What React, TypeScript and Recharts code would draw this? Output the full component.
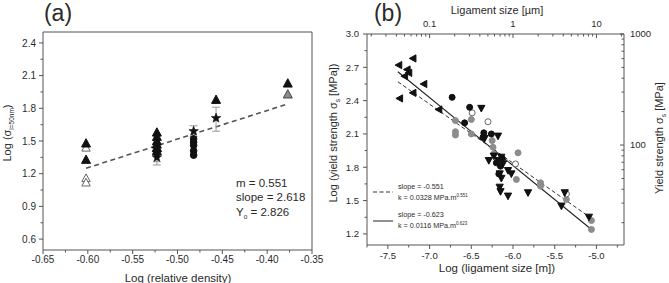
import React from 'react'
import { ComposedChart, Scatter, Line, XAxis, YAxis, ReferenceArea, ErrorBar } from 'recharts'

const FONT = '"Liberation Sans", Arial, Helvetica, sans-serif'
const INK = '#2a2a2a'
const FRAME = '#555'
const GRAY = '#8c8c8c'
const BLACK = '#111'

// ---------- (a) Log(sigma l=50nm) vs Log(relative density) ----------
const aTriFilled = [
  [-0.602, 1.48], [-0.602, 1.33],
  [-0.523, 1.58], [-0.523, 1.54], [-0.523, 1.5], [-0.523, 1.47], [-0.523, 1.44], [-0.523, 1.41],
  [-0.457, 1.88],
  [-0.377, 2.03],
]
const aTriGray = [[-0.377, 1.93]]
const aTriOpen = [[-0.602, 1.44], [-0.602, 1.16], [-0.602, 1.12]]
const aCircles = [[-0.482, 1.52], [-0.482, 1.49], [-0.482, 1.46], [-0.482, 1.41], [-0.482, 1.37]]
// stars with [minus, plus] error
const aStars = [
  { x: -0.523, y: 1.39, err: [0.08, 0.09] },
  { x: -0.523, y: 1.35, err: [0.07, 0.07] },
  { x: -0.482, y: 1.59, err: [0.05, 0.05] },
  { x: -0.457, y: 1.71, err: [0.12, 0.1] },
]
const aFit = [[-0.602, 1.25], [-0.377, 1.84]]

const aXMajor = [-0.65, -0.6, -0.55, -0.5, -0.45, -0.4, -0.35]
const aXMinor = [-0.625, -0.575, -0.525, -0.475, -0.425, -0.375]
const aYMajor = [0.6, 0.9, 1.2, 1.5, 1.8, 2.1, 2.4]
const aYMinor = [0.75, 1.05, 1.35, 1.65, 1.95, 2.25]

// ---------- (b) Log(yield strength) vs Log(ligament size) ----------
const bLeftTri = [
  [-7.37, 2.72], [-7.2, 2.78], [-7.27, 2.68], [-7.25, 2.65], [-7.3, 2.62],
  [-7.07, 2.55], [-7.36, 2.42], [-7.2, 2.47], [-6.89, 2.32],
]
const bDownTri = [
  [-6.38, 2.33], [-6.18, 2.08], [-6.34, 2.06], [-6.29, 1.86], [-6.23, 1.9], [-6.18, 1.86],
  [-6.14, 1.89], [-6.12, 1.83], [-6.06, 1.77], [-6.02, 1.74], [-6.16, 1.74], [-6.14, 1.7],
  [-6.16, 1.62], [-6.15, 1.58], [-6.06, 1.54], [-5.82, 1.57], [-5.42, 1.45], [-5.38, 1.57],
  [-5.09, 1.35],
]
const bBlackCircle = [
  [-6.73, 2.43], [-6.52, 2.34], [-6.58, 2.2], [-6.35, 2.11], [-6.26, 2.1], [-6.36, 2.07],
  [-6.15, 1.81], [-6.17, 1.74], [-6.13, 1.88], [-6.2, 1.84],
]
const bOpenCircle = [[-6.49, 2.29], [-6.3, 2.21], [-5.97, 1.83], [-5.36, 1.56]]
const bGrayCircle = [
  [-6.69, 2.22], [-6.69, 2.12], [-6.69, 2.09], [-6.5, 2.23], [-6.5, 2.1], [-6.25, 2.04],
  [-6.24, 1.98], [-6.23, 1.92], [-5.94, 1.93], [-5.96, 1.69], [-5.67, 1.66], [-5.67, 1.63],
  [-5.36, 1.51], [-5.06, 1.32], [-5.06, 1.24],
]
const bFitDashed = [[-7.38, 2.57], [-5.08, 1.35]]
const bFitSolid = [[-7.38, 2.66], [-5.06, 1.24]]

const bXMajor = [-7.5, -7.0, -6.5, -6.0, -5.5, -5.0]
const bXMinor = [-7.75, -7.25, -6.75, -6.25, -5.75, -5.25, -4.75]
const bYMajor = [1.2, 1.5, 1.8, 2.1, 2.4, 2.7, 3.0]
const bYMinor = [1.35, 1.65, 1.95, 2.25, 2.55, 2.85]
// top axis: ligament size in micrometres, right axis: yield strength in MPa (log scales)
const topMajorUm = [0.1, 1, 10]
const topMinorUm = [0.02, 0.03, 0.04, 0.05, 0.06, 0.07, 0.08, 0.09, 0.2, 0.3, 0.4, 0.5, 0.6, 0.7, 0.8, 0.9, 2, 3, 4, 5, 6, 7, 8, 9, 20]
const rightMajorMPa = [100, 1000]
const rightMinorMPa = [20, 30, 40, 50, 60, 70, 80, 90, 200, 300, 400, 500, 600, 700, 800, 900]

const pts = (a: number[][]) => a.map(([x, y]) => ({ x, y }))
const umToLogM = (v: number) => Math.log10(v) - 6

type Kind = 'up' | 'down' | 'left' | 'circle' | 'star'
const marker = (kind: Kind, fill: string, stroke: string, r: number) => (p: any) => {
  const { cx, cy } = p
  if (cx == null || cy == null) return <g />
  if (kind === 'circle') return <circle cx={cx} cy={cy} r={r} fill={fill} stroke={stroke} strokeWidth={1} />
  if (kind === 'star') {
    const s: string[] = []
    for (let i = 0; i < 10; i++) {
      const rr = i % 2 === 0 ? r : r * 0.42
      const a = -Math.PI / 2 + (i * Math.PI) / 5
      s.push(`${cx + rr * Math.cos(a)},${cy + rr * Math.sin(a)}`)
    }
    return <polygon points={s.join(' ')} fill={fill} stroke={stroke} strokeWidth={0.6} />
  }
  const h = r * 0.85
  let poly = ''
  if (kind === 'up') poly = `${cx},${cy - r} ${cx + r},${cy + h} ${cx - r},${cy + h}`
  if (kind === 'down') poly = `${cx},${cy + r} ${cx + r},${cy - h} ${cx - r},${cy - h}`
  if (kind === 'left') poly = `${cx - r},${cy} ${cx + h},${cy - r} ${cx + h},${cy + r}`
  return <polygon points={poly} fill={fill} stroke={stroke} strokeWidth={1} />
}

type Side = 'bottom' | 'left' | 'top' | 'right'
const tickRenderer = (
  side: Side,
  majors: number[],
  fmt: (v: number) => string,
  o: { gap: number; size: number; inward?: boolean; len?: number; minor?: number },
) => (props: any) => {
  const { x, y, payload } = props
  const v = payload.value as number
  const isMajor = majors.some((m) => Math.abs(m - v) < 1e-6)
  const L = isMajor ? o.len ?? 5 : o.minor ?? 3
  const s = o.inward ? -1 : 1
  let x2 = x, y2 = y, tx = x, ty = y
  let anchor: 'start' | 'middle' | 'end' = 'middle'
  if (side === 'bottom') { y2 = y + s * L; ty = y + o.gap }
  if (side === 'top') { y2 = y - s * L; ty = y - o.gap }
  if (side === 'left') { x2 = x - s * L; tx = x - o.gap; ty = y + o.size * 0.36; anchor = 'end' }
  if (side === 'right') { x2 = x + s * L; tx = x + o.gap; ty = y + o.size * 0.36; anchor = 'start' }
  return (
    <g>
      <line x1={x} y1={y} x2={x2} y2={y2} stroke={FRAME} strokeWidth={1} />
      {isMajor && (
        <text x={tx} y={ty} textAnchor={anchor} fontSize={o.size} fill={INK} fontFamily={FONT}>
          {fmt(v)}
        </text>
      )}
    </g>
  )
}

const axisBase = { type: 'number' as const, interval: 0 as const, tickSize: 0, tickMargin: 0, axisLine: false, tickLine: false, allowDataOverflow: true }

function PanelA() {
  return (
    <ComposedChart width={335} height={283} margin={{ top: 32, right: 23, left: 0, bottom: 0 }}>
      <XAxis
        {...axisBase}
        dataKey="x"
        height={33}
        domain={[-0.65, -0.35]}
        ticks={[...aXMajor, ...aXMinor]}
        tick={tickRenderer('bottom', aXMajor, (v) => v.toFixed(2), { gap: 13, size: 10, len: 4, minor: 2.5 })}
      />
      <YAxis
        {...axisBase}
        dataKey="y"
        width={43}
        domain={[0.5, 2.5]}
        ticks={[...aYMajor, ...aYMinor]}
        tick={tickRenderer('left', aYMajor, (v) => v.toFixed(1), { gap: 7, size: 10, len: 4, minor: 2.5 })}
      />
      <ReferenceArea x1={-0.65} x2={-0.35} y1={0.5} y2={2.5} fill="none" stroke={FRAME} strokeWidth={1} />
      <Line data={pts(aFit)} dataKey="y" type="linear" stroke="#555" strokeWidth={1.6} strokeDasharray="5 3.5" dot={false} isAnimationActive={false} />
      <Scatter data={aStars} shape={marker('star', BLACK, BLACK, 5)} isAnimationActive={false}>
        <ErrorBar dataKey="err" direction="y" width={4} stroke="#999" strokeWidth={1} />
      </Scatter>
      <Scatter data={pts(aTriOpen)} shape={marker('up', '#fff', '#666', 4.2)} isAnimationActive={false} />
      <Scatter data={pts(aTriGray)} shape={marker('up', GRAY, '#444', 4.5)} isAnimationActive={false} />
      <Scatter data={pts(aTriFilled)} shape={marker('up', BLACK, BLACK, 4.5)} isAnimationActive={false} />
      <Scatter data={pts(aCircles)} shape={marker('circle', BLACK, BLACK, 3.3)} isAnimationActive={false} />
    </ComposedChart>
  )
}

function PanelB() {
  return (
    <ComposedChart width={369} height={283} margin={{ top: 0, right: 0, left: 0, bottom: 0 }}>
      <XAxis
        {...axisBase}
        xAxisId="b"
        dataKey="x"
        height={38}
        domain={[-7.75, -4.67]}
        ticks={[...bXMajor, ...bXMinor]}
        tick={tickRenderer('bottom', bXMajor, (v) => v.toFixed(1), { gap: 14, size: 9.5, len: 4, minor: 2.5 })}
      />
      <XAxis
        {...axisBase}
        xAxisId="t"
        dataKey="x"
        orientation="top"
        height={34}
        domain={[-7.75, -4.67]}
        ticks={[...topMajorUm, ...topMinorUm].map(umToLogM)}
        tick={tickRenderer('top', topMajorUm.map(umToLogM), (v) => String(Math.round(Math.pow(10, v + 6) * 10) / 10), { gap: 7, size: 9.5, inward: true, len: 4, minor: 2.5 })}
      />
      <YAxis
        {...axisBase}
        yAxisId="l"
        dataKey="y"
        width={67}
        domain={[1.1, 3.0]}
        ticks={[...bYMajor, ...bYMinor]}
        tick={tickRenderer('left', bYMajor, (v) => v.toFixed(1), { gap: 8, size: 9.5, len: 4, minor: 2.5 })}
      />
      <YAxis
        {...axisBase}
        yAxisId="r"
        dataKey="y"
        orientation="right"
        width={45}
        domain={[1.1, 3.0]}
        ticks={[...rightMajorMPa, ...rightMinorMPa].map((v) => Math.log10(v))}
        tick={tickRenderer('right', rightMajorMPa.map((v) => Math.log10(v)), (v) => String(Math.round(Math.pow(10, v))), { gap: 6, size: 9.5, inward: true, len: 4, minor: 2.5 })}
      />
      <ReferenceArea xAxisId="t" yAxisId="r" x1={-7.75} x2={-4.67} y1={1.1} y2={3.0} ifOverflow="extendDomain" fill="none" stroke="none" />
      <ReferenceArea xAxisId="b" yAxisId="l" x1={-7.75} x2={-4.67} y1={1.1} y2={3.0} fill="none" stroke={FRAME} strokeWidth={1} />
      <Scatter xAxisId="b" yAxisId="l" data={pts(bGrayCircle)} shape={marker('circle', GRAY, GRAY, 3)} isAnimationActive={false} />
      <Scatter xAxisId="b" yAxisId="l" data={pts(bOpenCircle)} shape={marker('circle', '#fff', '#666', 3)} isAnimationActive={false} />
      <Scatter xAxisId="b" yAxisId="l" data={pts(bBlackCircle)} shape={marker('circle', BLACK, BLACK, 3)} isAnimationActive={false} />
      <Scatter xAxisId="b" yAxisId="l" data={pts(bDownTri)} shape={marker('down', BLACK, BLACK, 3.6)} isAnimationActive={false} />
      <Scatter xAxisId="b" yAxisId="l" data={pts(bLeftTri)} shape={marker('left', BLACK, BLACK, 3.6)} isAnimationActive={false} />
      <Line xAxisId="b" yAxisId="l" data={pts(bFitDashed)} dataKey="y" type="linear" stroke="#333" strokeWidth={1} strokeDasharray="4 2.5" dot={false} isAnimationActive={false} />
      <Line xAxisId="b" yAxisId="l" data={pts(bFitSolid)} dataKey="y" type="linear" stroke="#222" strokeWidth={1.1} dot={false} isAnimationActive={false} />
    </ComposedChart>
  )
}

export default function App() {
  const t = { fontFamily: FONT, fill: INK }
  return (
    <div style={{ position: 'absolute', left: 0, top: 0, width: 669, height: 283, background: '#fff', overflow: 'hidden' }}>
      <div style={{ position: 'absolute', left: 0, top: 0 }}>
        <PanelA />
      </div>
      <div style={{ position: 'absolute', left: 300, top: 0 }}>
        <PanelB />
      </div>
      <svg width={669} height={283} style={{ position: 'absolute', left: 0, top: 0, pointerEvents: 'none' }}>
        <text x={58} y={21} textAnchor="middle" fontSize={23} {...t}>(a)</text>
        <text x={388} y={21} textAnchor="middle" fontSize={23} {...t}>(b)</text>

        <text x={178} y={282} textAnchor="middle" fontSize={11.5} {...t}>Log (relative density)</text>
        <text transform="translate(11,133) rotate(-90)" textAnchor="middle" fontSize={11} {...t}>
          Log (σ<tspan fontSize={6.5} dy={2.5}>l=50nm</tspan><tspan dy={-2.5}>)</tspan>
        </text>
        <text x={236} y={187} fontSize={11.5} {...t}>m = 0.551</text>
        <text x={236} y={201} fontSize={11.5} {...t}>slope = 2.618</text>
        <text x={236} y={216} fontSize={11.5} {...t}>
          Y<tspan fontSize={6.5} dy={3}>o</tspan><tspan dy={-3}> = 2.826</tspan>
        </text>

        <text transform="translate(337,133) rotate(-90)" textAnchor="middle" fontSize={11} {...t}>
          Log (yield strength σ<tspan fontSize={6.5} dy={2.5}>s</tspan><tspan dy={-2.5}> [MPa])</tspan>
        </text>
        <text x={497} y={272} textAnchor="middle" fontSize={11.5} {...t}>Log (ligament size [m])</text>
        <text x={497} y={14} textAnchor="middle" fontSize={11} {...t}>Ligament size [µm]</text>
        <text transform="translate(663,138) rotate(-90)" textAnchor="middle" fontSize={11} {...t}>
          Yield strength σ<tspan fontSize={6.5} dy={2.5}>s</tspan><tspan dy={-2.5}> [MPa]</tspan>
        </text>

        <line x1={373} y1={192} x2={393} y2={192} stroke="#333" strokeWidth={1} strokeDasharray="4 2.5" />
        <text x={398} y={189} fontSize={7.2} {...t}>slope = -0.551</text>
        <text x={398} y={200} fontSize={7.2} {...t}>
          k = 0.0328 MPa.m<tspan fontSize={4.5} dy={-3}>0.551</tspan>
        </text>
        <line x1={373} y1={221} x2={393} y2={221} stroke="#222" strokeWidth={1} />
        <text x={398} y={217} fontSize={7.2} {...t}>slope = -0.623</text>
        <text x={398} y={228} fontSize={7.2} {...t}>
          k = 0.0116 MPa.m<tspan fontSize={4.5} dy={-3}>0.623</tspan>
        </text>
      </svg>
    </div>
  )
}
